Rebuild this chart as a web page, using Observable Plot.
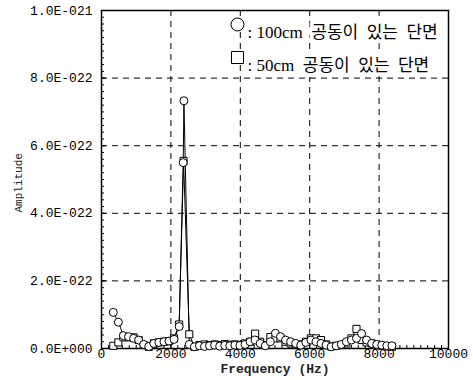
<!DOCTYPE html>
<html><head><meta charset="utf-8">
<script src="https://cdn.jsdelivr.net/npm/d3@7"></script>
<script src="https://cdn.jsdelivr.net/npm/@observablehq/plot@0.6"></script>
<style>
html,body{margin:0;padding:0;background:#fff;}
</style>
</head><body><div id="chart"></div>
<script>
// Frequencies (Hz) and amplitudes (in units of 1e-22)
const freq100 = [340,486,632,778,924,1070,1216,1362,1508,1654,1800,1946,2092,2238,2355,2375,2530,2676,2822,2968,3114,3260,3406,3552,3698,3844,3990,4136,4282,4428,4574,4720,4866,5012,5158,5304,5450,5596,5742,5888,6034,6180,6326,6472,6618,6764,6910,7056,7202,7348,7494,7640,7786,7932,8078,8224,8370];
const amp100 = [1.07,0.78,0.38,0.35,0.30,0.25,0.12,0.06,0.15,0.18,0.20,0.22,0.27,0.65,5.50,7.33,0.12,0.05,0.08,0.06,0.08,0.10,0.07,0.09,0.08,0.10,0.09,0.12,0.20,0.25,0.15,0.08,0.20,0.45,0.35,0.25,0.20,0.15,0.10,0.18,0.25,0.20,0.15,0.10,0.05,0.08,0.12,0.20,0.25,0.30,0.44,0.25,0.15,0.12,0.10,0.08,0.08];
const freq50 = [340,486,632,778,924,1070,1216,1362,1508,1654,1800,1946,2092,2238,2365,2530,2676,2822,2968,3114,3260,3406,3552,3698,3844,3990,4136,4282,4428,4574,4720,4866,5012,5158,5304,5450,5596,5742,5888,6034,6180,6326,6472,6618,6764,6910,7056,7202,7348,7494,7640,7786,7932,8078,8224,8370];
const amp50 = [0.08,0.18,0.33,0.33,0.33,0.25,0.10,0.05,0.15,0.18,0.20,0.22,0.30,0.71,5.55,0.42,0.05,0.10,0.12,0.10,0.12,0.10,0.13,0.11,0.12,0.10,0.15,0.20,0.44,0.20,0.10,0.34,0.30,0.30,0.20,0.15,0.12,0.12,0.20,0.30,0.30,0.25,0.12,0.06,0.08,0.10,0.15,0.30,0.58,0.25,0.18,0.15,0.10,0.08,0.06,0.05];

const xTicks = [0,2000,4000,6000,8000,10000];
const xTickLabels = ["0","2000","4000","6000","8000","10000"];
const yTicks = [0,2,4,6,8,10];
const yTickLabels = ["0.0E+000","2.0E-022","4.0E-022","6.0E-022","8.0E-022","1.0E-021"];
const xGrid = [2000,4000,6000,8000];
const yGrid = [2,4,6,8];
const xLabel = "Frequency (Hz)";
const yLabel = "Amplitude";
const legendLabels = [": 100cm\u2002공동이\u2002있는\u2002단면", ": 50cm\u2002공동이\u2002있는\u2002단면"];

const xMinor = d3.range(0, 10001, 200);
const yMinor = d3.range(0, 10.001, 0.2);

const data100 = freq100.map((f,i)=>({f, a: amp100[i]}));
const data50 = freq50.map((f,i)=>({f, a: amp50[i]}));

const mono = "'Liberation Mono', 'DejaVu Sans Mono', monospace";
const serifKR = "'Liberation Serif', 'Noto Sans CJK KR', serif";

const chart = Plot.plot({
  width: 473,
  height: 380,
  marginLeft: 101,
  marginRight: 25,
  marginTop: 10,
  marginBottom: 32,
  style: {fontFamily: mono, fontSize: "13px", color: "#000", background: "#fff"},
  x: {domain: [0, 10000], axis: null},
  y: {domain: [0, 10], axis: null},
  marks: [
    Plot.gridX(xGrid, {stroke: "#000", strokeOpacity: 1, strokeDasharray: "6,5", strokeWidth: 1}),
    Plot.gridY(yGrid, {stroke: "#000", strokeOpacity: 1, strokeDasharray: "6,5", strokeWidth: 1}),
    Plot.axisX(xMinor, {anchor: "bottom", tickSize: -3, text: null, label: null, strokeWidth: 1}),
    Plot.axisX(xTicks, {anchor: "bottom", tickSize: -5, text: null, label: null, strokeWidth: 1}),
    Plot.axisX(xTicks, {anchor: "bottom", tickSize: 0, tickPadding: 0, label: null,
      tickFormat: d => xTickLabels[xTicks.indexOf(d)], fontSize: 13}),
    Plot.axisY(yMinor, {anchor: "left", tickSize: -3, text: null, label: null, strokeWidth: 1}),
    Plot.axisY(yTicks, {anchor: "left", tickSize: -5, text: null, label: null, strokeWidth: 1}),
    Plot.axisY(yTicks, {anchor: "left", tickSize: 0, tickPadding: 9, label: null,
      tickFormat: d => yTickLabels[yTicks.indexOf(d)], fontSize: 13}),
    Plot.frame({stroke: "#000", strokeWidth: 1.5}),
    Plot.line(data50, {x: "f", y: "a", stroke: "#000", strokeWidth: 1}),
    Plot.line(data100, {x: "f", y: "a", stroke: "#000", strokeWidth: 1}),
    Plot.dot(data50, {x: "f", y: "a", symbol: "square", r: 4, stroke: "#000", fill: "#fff", strokeWidth: 1}),
    Plot.dot(data100, {x: "f", y: "a", symbol: "circle", r: 4, stroke: "#000", fill: "#fff", strokeWidth: 1}),
    // axis titles
    Plot.text([xLabel], {frameAnchor: "bottom", dy: 24, text: d => d, fontFamily: mono, fontSize: 13, fontWeight: "bold", fill: "#222"}),
    Plot.text([yLabel], {frameAnchor: "left", dx: -83, dy: 33, rotate: -90, text: d => d, fontFamily: mono, fontSize: 11, fill: "#222"}),
    // legend
    Plot.text([legendLabels[0]], {frameAnchor: "top-left", dx: 146, dy: 15, text: d => d, textAnchor: "start",
      fontFamily: serifKR, fontSize: 17, fill: "#000", stroke: "#fff", strokeWidth: 8}),
    Plot.text([legendLabels[1]], {frameAnchor: "top-left", dx: 146, dy: 48, text: d => d, textAnchor: "start",
      fontFamily: serifKR, fontSize: 17, fill: "#000", stroke: "#fff", strokeWidth: 8}),
    Plot.dot([0], {frameAnchor: "top-left", dx: 136, dy: 14, symbol: "circle", r: 6.5, stroke: "#000", fill: "#fff", strokeWidth: 1}),
    Plot.dot([0], {frameAnchor: "top-left", dx: 136, dy: 47, symbol: "square", r: 6.8, stroke: "#000", fill: "#fff", strokeWidth: 1})
  ]
});
document.getElementById("chart").appendChild(chart);
</script>
</body></html>
